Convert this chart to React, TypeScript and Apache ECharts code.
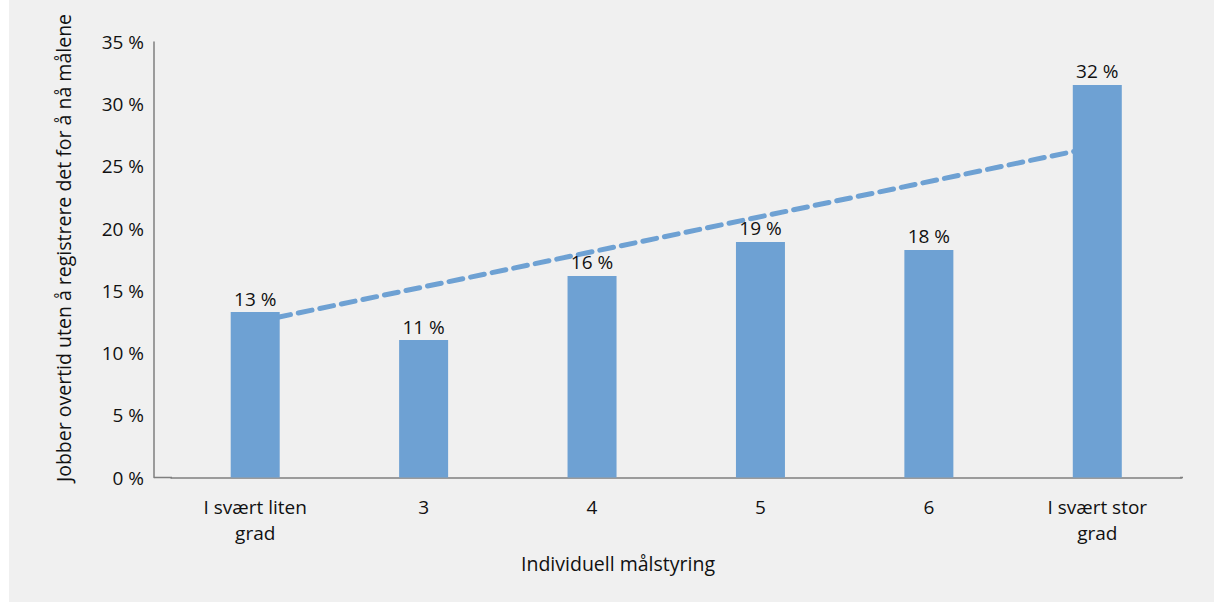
import React, { useEffect, useRef } from "react";
import * as echarts from "echarts";

const categories = ["I svært liten\ngrad", "3", "4", "5", "6", "I svært stor\ngrad"];
const shares = [13.3, 11.05, 16.2, 18.93, 18.29, 31.55];
const trend = [12.5, null, null, null, null, 26.6];
const yTicks = { min: 0, max: 35, interval: 5 };
const yTitle = "Jobber overtid uten å registrere det for å nå målene";
const xTitle = "Individuell målstyring";

const FONT = "'Open Sans', 'Noto Sans', sans-serif";
const BLUE = "#6ea1d3";
const TEXT = "#111111";
const AXIS = "#7f7f7f";

export default function App() {
  const ref = useRef<HTMLDivElement>(null);
  useEffect(() => {
    if (!ref.current) return;
    const chart = echarts.init(ref.current, null, { renderer: "svg" });
    chart.setOption({
      animation: false,
      backgroundColor: "#ffffff",
      textStyle: { fontFamily: FONT },
      graphic: [
        { type: "rect", z: -10, shape: { x: 9, y: 0, width: 1205, height: 602 }, style: { fill: "#f0f0f0" } },
        { type: "line", z: 10, shape: { x1: 154, y1: 477.5, x2: 172, y2: 477.5 }, style: { stroke: AXIS, lineWidth: 1.5 } },
        { type: "line", z: 10, shape: { x1: 1180, y1: 477.5, x2: 1183, y2: 477.5 }, style: { stroke: AXIS, lineWidth: 1.5 } },
        {
          type: "text", x: 63, y: 248, rotation: Math.PI / 2,
          style: { text: yTitle, font: `19.5px ${FONT}`, fill: TEXT, align: "center", verticalAlign: "middle" },
        },
        {
          type: "text", x: 618, y: 563,
          style: { text: xTitle, font: `19.5px ${FONT}`, fill: TEXT, align: "center", verticalAlign: "middle" },
        },
      ],
      grid: { left: 171, right: 32.5, top: 42, bottom: 125.5 },
      xAxis: {
        type: "category",
        data: categories,
        axisLine: { lineStyle: { color: AXIS, width: 1.5 } },
        axisTick: { show: false },
        axisLabel: { color: TEXT, fontSize: 19, lineHeight: 26, margin: 16, fontFamily: FONT, interval: 0 },
      },
      yAxis: {
        type: "value",
        min: yTicks.min,
        max: yTicks.max,
        interval: yTicks.interval,
        offset: 17,
        axisLine: { show: true, lineStyle: { color: AXIS, width: 1.5 } },
        axisTick: { show: false },
        splitLine: { show: false },
        axisLabel: { color: TEXT, fontSize: 19, margin: 10, fontFamily: FONT, formatter: (v: number) => `${v} %` },
      },
      series: [
        {
          type: "line",
          data: trend,
          connectNulls: true,
          symbol: "none",
          z: 1,
          lineStyle: { color: BLUE, width: 5, type: [14, 8], cap: "round" },
        },
        {
          type: "bar",
          data: shares,
          barWidth: 49,
          z: 3,
          itemStyle: { color: BLUE },
          label: {
            show: true,
            position: "top",
            distance: 4,
            color: TEXT,
            fontSize: 19,
            fontFamily: FONT,
            formatter: (p: any) => `${Math.round(p.value)} %`,
          },
        },
      ],
    });
    return () => chart.dispose();
  }, []);
  return <div ref={ref} style={{ position: "fixed", left: 0, top: 0, width: 1214, height: 603 }} />;
}
